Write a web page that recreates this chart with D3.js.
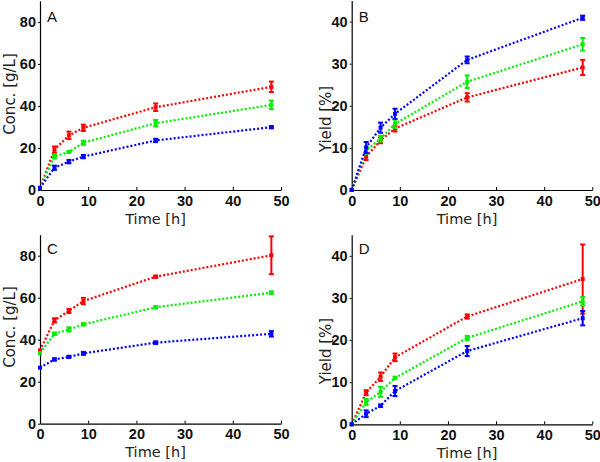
<!DOCTYPE html>
<html><head><meta charset="utf-8">
<script src="https://cdn.jsdelivr.net/npm/d3@7"></script>
<style>body{margin:0;background:#fff}svg{display:block}</style>
</head><body><svg id="c" width="600" height="462"></svg>
<script>
const times = [0, 3, 6, 9, 24, 48];
const xTicks = [0, 10, 20, 30, 40, 50];
const concTicks = [0, 20, 40, 60, 80];
const yieldTicks = [0, 10, 20, 30, 40];
const seriesColors = ["#ff0000", "#00ee00", "#0000ff"];

// Panel A: concentration (g/L) red, green, blue
const aRed = [1, 19.2, 26, 29.6, 39.4, 49.1];
const aRedErr = [0, 1.5, 1.8, 1.5, 1.8, 2.5];
const aGreen = [1, 16, 18.1, 22.5, 31.8, 40.5];
const aGreenErr = [0, 1, 0.5, 1, 1.5, 2];
const aBlue = [1, 10.6, 13.5, 15.9, 23.6, 29.9];
const aBlueErr = [0, 1, 0.8, 0.8, 0.8, 0.5];

// Panel B: yield (%)
const bRed = [0, 7.9, 11.8, 14.6, 22, 29.1];
const bRedErr = [0, 0.8, 0.7, 0.7, 1, 1.8];
const bGreen = [0, 9.4, 12.2, 15.7, 25.7, 34.6];
const bGreenErr = [0, 0.8, 0.7, 1, 1.5, 1.5];
const bBlue = [0, 10.1, 14.8, 18.1, 30.9, 40.9];
const bBlueErr = [0, 1.3, 1.2, 1.2, 0.8, 0.5];

// Panel C: concentration (g/L)
const cRed = [34.9, 49.2, 53.7, 58.4, 70, 80.2];
const cRedErr = [0, 1, 1, 1.5, 0.5, 9];
const cGreen = [33.6, 42.8, 44.9, 47.3, 55.4, 62.4];
const cGreenErr = [0, 0.6, 1, 0.5, 0.5, 0.6];
const cBlue = [26.7, 30.6, 31.8, 33.5, 38.6, 42.8];
const cBlueErr = [0, 0.5, 0.5, 0.7, 0.6, 1.3];

// Panel D: yield (%)
const dRed = [0, 7.5, 11.3, 15.9, 25.6, 34.5];
const dRedErr = [0, 0.6, 1, 0.9, 0.5, 8.2];
const dGreen = [0, 5.3, 7.7, 11, 20.5, 29.2];
const dGreenErr = [0, 0.7, 1.2, 0.3, 0.5, 1];
const dBlue = [0, 2.5, 4.4, 7.9, 17.4, 25.2];
const dBlueErr = [0, 0.8, 0.3, 1.2, 1.2, 1.7];

const panels = [
  {letter:"A", ylab:"Conc. [g/L]", yMax:90, ticks:concTicks, x0:40, x1:281, y0:190, yTop:0.9, labY:94, labX:10,
   series:[[aRed,aRedErr],[aGreen,aGreenErr],[aBlue,aBlueErr]]},
  {letter:"B", ylab:"Yield [%]", yMax:45, ticks:yieldTicks, x0:351.7, x1:592.3, y0:190, yTop:0.5, labY:119, labX:326,
   series:[[bRed,bRedErr],[bGreen,bGreenErr],[bBlue,bBlueErr]]},
  {letter:"C", ylab:"Conc. [g/L]", yMax:90, ticks:concTicks, x0:40, x1:281, y0:423.7, yTop:234.7, labY:327, labX:10,
   series:[[cRed,cRedErr],[cGreen,cGreenErr],[cBlue,cBlueErr]]},
  {letter:"D", ylab:"Yield [%]", yMax:45, ticks:yieldTicks, x0:351.7, x1:592.3, y0:424.3, yTop:234.8, labY:351, labX:326,
   series:[[dRed,dRedErr],[dGreen,dGreenErr],[dBlue,dBlueErr]]}
];

const svg = d3.select("#c");
panels.forEach(p => {
  const g = svg.append("g");
  const x = d3.scaleLinear().domain([0, 50]).range([p.x0, p.x1]);
  const y = d3.scaleLinear().domain([0, p.yMax]).range([p.y0, p.yTop]);

  const xa = g.append("g").attr("transform", `translate(0,${p.y0})`)
    .call(d3.axisBottom(x).tickValues(xTicks).tickSize(-3).tickPadding(4).tickSizeOuter(0));
  const ya = g.append("g").attr("transform", `translate(${p.x0},0)`)
    .call(d3.axisLeft(y).tickValues(p.ticks).tickSize(2).tickPadding(2).tickSizeOuter(0));
  [xa, ya].forEach(a => {
    a.select(".domain").attr("stroke", "#000").attr("stroke-width", 1.2);
    a.selectAll(".tick line").attr("stroke", "#000");
    a.selectAll("text").attr("font-family", "Liberation Sans, Arial, sans-serif")
      .attr("font-weight", "bold").attr("font-size", 14.5).attr("fill", "#111");
  });
  xa.selectAll("text").attr("dy", "0.8em");

  p.series.forEach((s, i) => {
    const vals = s[0], errs = s[1], col = seriesColors[i];
    const pts = times.map((t, k) => ({t, v: vals[k], e: errs[k]}));
    g.append("path").datum(pts)
      .attr("fill", "none").attr("stroke", col).attr("stroke-width", 2.2)
      .attr("stroke-dasharray", "2,2")
      .attr("d", d3.line().x(d => x(d.t)).y(d => y(d.v)));
    const eb = g.append("g").selectAll("g").data(pts.filter(d => d.e > 0)).join("g");
    eb.append("line").attr("x1", d => x(d.t)).attr("x2", d => x(d.t))
      .attr("y1", d => y(d.v - d.e)).attr("y2", d => y(d.v + d.e))
      .attr("stroke", col).attr("stroke-width", 2);
    [1, -1].forEach(sg => {
      eb.append("line").attr("x1", d => x(d.t) - 2.5).attr("x2", d => x(d.t) + 2.5)
        .attr("y1", d => y(d.v + sg * d.e)).attr("y2", d => y(d.v + sg * d.e))
        .attr("stroke", col).attr("stroke-width", 2);
    });
    g.append("g").selectAll("rect").data(pts).join("rect")
      .attr("x", d => x(d.t) - 2).attr("y", d => y(d.v) - 2)
      .attr("width", 4).attr("height", 4).attr("fill", col);
  });

  g.append("text").attr("x", p.x0 + 7).attr("y", p.yTop + (p.yTop < 10 ? 21 : 19))
    .attr("font-family", "Liberation Sans, Arial, sans-serif").attr("font-size", 15)
    .attr("fill", "#111").text(p.letter);
  g.append("text").attr("x", (p.x0 + p.x1) / 2 - 5).attr("y", p.y0 + 33.5)
    .attr("text-anchor", "middle").attr("font-family", "DejaVu Sans, sans-serif")
    .attr("font-size", 14.5).attr("fill", "#222").text("Time [h]");
  g.append("text").attr("transform", `translate(${p.labX},${p.labY}) rotate(-90)`)
    .attr("text-anchor", "middle").attr("dy", "0.35em").attr("font-family", "DejaVu Sans, sans-serif")
    .attr("font-size", 15).attr("fill", "#222").text(p.ylab);
});
</script></body></html>
